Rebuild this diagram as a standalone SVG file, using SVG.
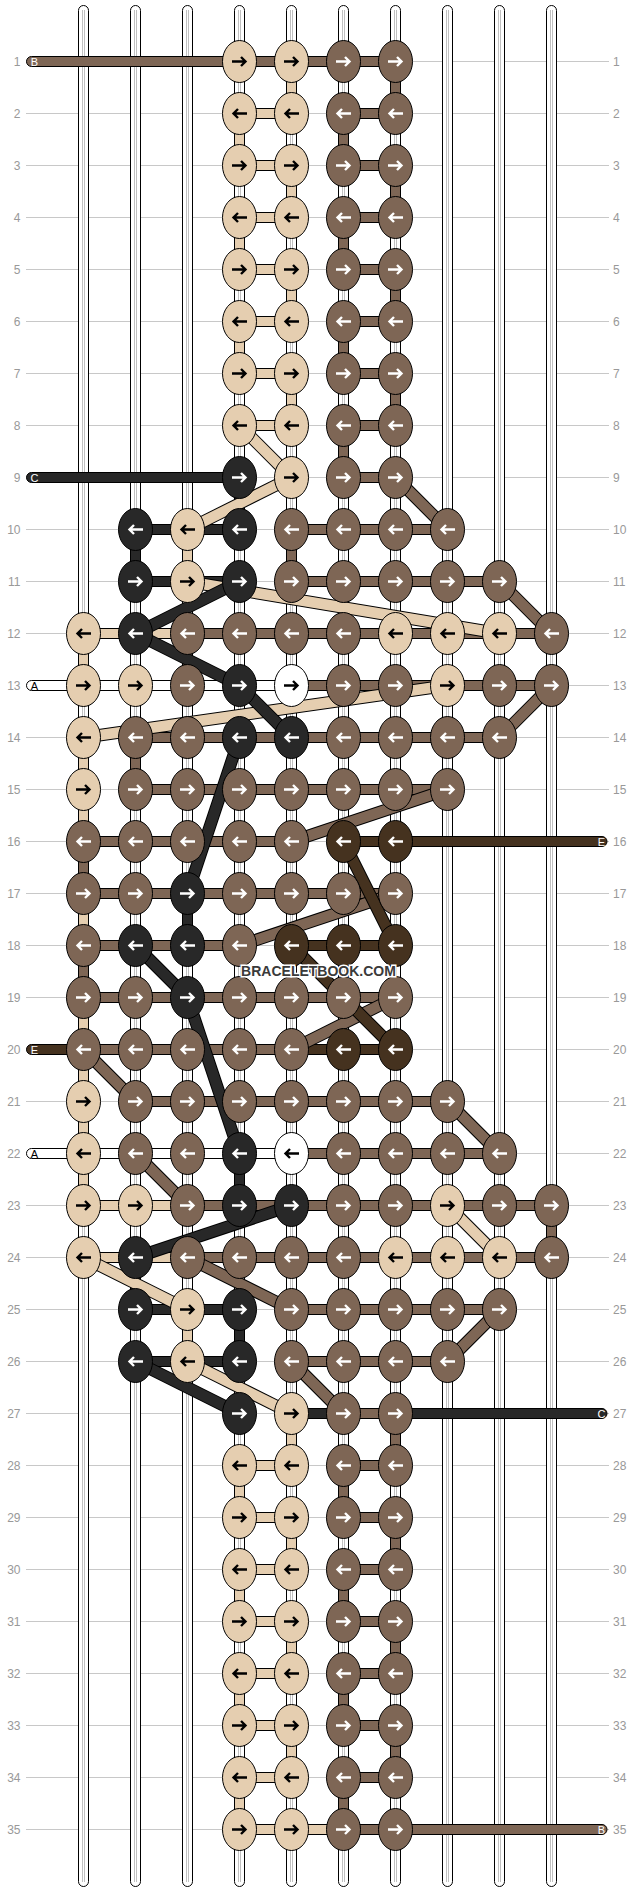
<svg xmlns="http://www.w3.org/2000/svg" xmlns:xlink="http://www.w3.org/1999/xlink" width="636" height="1892" viewBox="0 0 636 1892">
<style>
.rl{stroke:#c8c8c8;stroke-width:1;fill:none}
.lb{font-family:"Liberation Sans",Arial,sans-serif;font-size:12px;fill:#999}
.lr{text-anchor:end}
.st{fill:#fff;stroke:#000;stroke-width:1}
.sl{stroke:#c0c0c0;stroke-width:1;fill:none}
.cB{fill:#E5CEB0}.cN{fill:#7E6655}.cD{fill:#282828}.cX{fill:#45321F}.cW{fill:#fff}
#verticals rect,#bars rect{stroke:#000;stroke-width:1}
.o{stroke:#000;stroke-width:12.5}
.sB{stroke:#E5CEB0;stroke-width:10.5}.sN{stroke:#7E6655;stroke-width:10.5}.sD{stroke:#282828;stroke-width:10.5}.sX{stroke:#45321F;stroke-width:10.5}
.k ellipse{stroke:#000;stroke-width:1}
.kB ellipse{fill:#E5CEB0}.kN ellipse{fill:#7E6655}.kD ellipse{fill:#282828}.kX ellipse{fill:#45321F}.kW ellipse{fill:#fff}
.kB use,.kW use{stroke:#000}.kN use,.kD use,.kX use{stroke:#fff}
.tl{font-family:"Liberation Sans",Arial,sans-serif;font-size:11px;text-anchor:middle}
.wm{font-family:"Liberation Sans",Arial,sans-serif;font-size:14px;font-weight:bold;fill:#3a3a3a;stroke:#fff;stroke-width:3;paint-order:stroke;text-anchor:middle}
</style>
<defs>
<path id="R" d="M-7.5 0H5.5M1.5-4.5 6 0 1.5 4.5" fill="none" stroke-width="2.4"/>
<path id="L" d="M7.5 0H-5.5M-1.5-4.5-6 0-1.5 4.5" fill="none" stroke-width="2.4"/>
</defs>
<rect width="636" height="1892" fill="#fff"/>
<g id="rowlines">
<path class="rl" d="M26 61.5H609M26 113.5H609M26 165.5H609M26 217.5H609M26 269.5H609M26 321.5H609M26 373.5H609M26 425.5H609M26 477.5H609M26 529.5H609M26 581.5H609M26 633.5H609M26 685.5H609M26 737.5H609M26 789.5H609M26 841.5H609M26 893.5H609M26 945.5H609M26 997.5H609M26 1049.5H609M26 1101.5H609M26 1153.5H609M26 1205.5H609M26 1257.5H609M26 1309.5H609M26 1361.5H609M26 1413.5H609M26 1465.5H609M26 1517.5H609M26 1569.5H609M26 1621.5H609M26 1673.5H609M26 1725.5H609M26 1777.5H609M26 1829.5H609"/>
</g>
<g id="rowlabels" class="lb">
<text class="lr" x="20.5" y="65.8">1</text><text x="613" y="65.8">1</text>
<text class="lr" x="20.5" y="117.8">2</text><text x="613" y="117.8">2</text>
<text class="lr" x="20.5" y="169.8">3</text><text x="613" y="169.8">3</text>
<text class="lr" x="20.5" y="221.8">4</text><text x="613" y="221.8">4</text>
<text class="lr" x="20.5" y="273.8">5</text><text x="613" y="273.8">5</text>
<text class="lr" x="20.5" y="325.8">6</text><text x="613" y="325.8">6</text>
<text class="lr" x="20.5" y="377.8">7</text><text x="613" y="377.8">7</text>
<text class="lr" x="20.5" y="429.8">8</text><text x="613" y="429.8">8</text>
<text class="lr" x="20.5" y="481.8">9</text><text x="613" y="481.8">9</text>
<text class="lr" x="20.5" y="533.8">10</text><text x="613" y="533.8">10</text>
<text class="lr" x="20.5" y="585.8">11</text><text x="613" y="585.8">11</text>
<text class="lr" x="20.5" y="637.8">12</text><text x="613" y="637.8">12</text>
<text class="lr" x="20.5" y="689.8">13</text><text x="613" y="689.8">13</text>
<text class="lr" x="20.5" y="741.8">14</text><text x="613" y="741.8">14</text>
<text class="lr" x="20.5" y="793.8">15</text><text x="613" y="793.8">15</text>
<text class="lr" x="20.5" y="845.8">16</text><text x="613" y="845.8">16</text>
<text class="lr" x="20.5" y="897.8">17</text><text x="613" y="897.8">17</text>
<text class="lr" x="20.5" y="949.8">18</text><text x="613" y="949.8">18</text>
<text class="lr" x="20.5" y="1001.8">19</text><text x="613" y="1001.8">19</text>
<text class="lr" x="20.5" y="1053.8">20</text><text x="613" y="1053.8">20</text>
<text class="lr" x="20.5" y="1105.8">21</text><text x="613" y="1105.8">21</text>
<text class="lr" x="20.5" y="1157.8">22</text><text x="613" y="1157.8">22</text>
<text class="lr" x="20.5" y="1209.8">23</text><text x="613" y="1209.8">23</text>
<text class="lr" x="20.5" y="1261.8">24</text><text x="613" y="1261.8">24</text>
<text class="lr" x="20.5" y="1313.8">25</text><text x="613" y="1313.8">25</text>
<text class="lr" x="20.5" y="1365.8">26</text><text x="613" y="1365.8">26</text>
<text class="lr" x="20.5" y="1417.8">27</text><text x="613" y="1417.8">27</text>
<text class="lr" x="20.5" y="1469.8">28</text><text x="613" y="1469.8">28</text>
<text class="lr" x="20.5" y="1521.8">29</text><text x="613" y="1521.8">29</text>
<text class="lr" x="20.5" y="1573.8">30</text><text x="613" y="1573.8">30</text>
<text class="lr" x="20.5" y="1625.8">31</text><text x="613" y="1625.8">31</text>
<text class="lr" x="20.5" y="1677.8">32</text><text x="613" y="1677.8">32</text>
<text class="lr" x="20.5" y="1729.8">33</text><text x="613" y="1729.8">33</text>
<text class="lr" x="20.5" y="1781.8">34</text><text x="613" y="1781.8">34</text>
<text class="lr" x="20.5" y="1833.8">35</text><text x="613" y="1833.8">35</text>
</g>
<g id="strings">
<rect class="st" x="78.5" y="5.5" width="10" height="1881" rx="5"/>
<rect class="st" x="130.5" y="5.5" width="10" height="1881" rx="5"/>
<rect class="st" x="182.5" y="5.5" width="10" height="1881" rx="5"/>
<rect class="st" x="234.5" y="5.5" width="10" height="1881" rx="5"/>
<rect class="st" x="286.5" y="5.5" width="10" height="1881" rx="5"/>
<rect class="st" x="338.5" y="5.5" width="10" height="1881" rx="5"/>
<rect class="st" x="390.5" y="5.5" width="10" height="1881" rx="5"/>
<rect class="st" x="442.5" y="5.5" width="10" height="1881" rx="5"/>
<rect class="st" x="494.5" y="5.5" width="10" height="1881" rx="5"/>
<rect class="st" x="546.5" y="5.5" width="10" height="1881" rx="5"/>
<path class="sl" d="M82.5 10V1882M84.5 10V1882M134.5 10V1882M136.5 10V1882M186.5 10V1882M188.5 10V1882M238.5 10V1882M240.5 10V1882M290.5 10V1882M292.5 10V1882M342.5 10V1882M344.5 10V1882M394.5 10V1882M396.5 10V1882M446.5 10V1882M448.5 10V1882M498.5 10V1882M500.5 10V1882M550.5 10V1882M552.5 10V1882"/>
</g>
<g id="connectors">
<g id="verticals">
<rect class="cB" x="286.5" y="61.5" width="10" height="52"/><rect class="cB" x="286.5" y="165.5" width="10" height="52"/><rect class="cB" x="286.5" y="269.5" width="10" height="52"/><rect class="cB" x="286.5" y="373.5" width="10" height="52"/>
<rect class="cB" x="286.5" y="1413.5" width="10" height="52"/><rect class="cB" x="286.5" y="1517.5" width="10" height="52"/><rect class="cB" x="286.5" y="1621.5" width="10" height="52"/><rect class="cB" x="286.5" y="1725.5" width="10" height="52"/>
<rect class="cN" x="390.5" y="61.5" width="10" height="52"/><rect class="cN" x="390.5" y="165.5" width="10" height="52"/><rect class="cN" x="390.5" y="269.5" width="10" height="52"/><rect class="cN" x="390.5" y="373.5" width="10" height="52"/>
<rect class="cN" x="390.5" y="1413.5" width="10" height="52"/><rect class="cN" x="390.5" y="1517.5" width="10" height="52"/><rect class="cN" x="390.5" y="1621.5" width="10" height="52"/><rect class="cN" x="390.5" y="1725.5" width="10" height="52"/>
<rect class="cB" x="234.5" y="113.5" width="10" height="52"/><rect class="cB" x="234.5" y="217.5" width="10" height="52"/><rect class="cB" x="234.5" y="321.5" width="10" height="52"/>
<rect class="cB" x="234.5" y="1465.5" width="10" height="52"/><rect class="cB" x="234.5" y="1569.5" width="10" height="52"/><rect class="cB" x="234.5" y="1673.5" width="10" height="52"/><rect class="cB" x="234.5" y="1777.5" width="10" height="52"/>
<rect class="cN" x="338.5" y="113.5" width="10" height="52"/><rect class="cN" x="338.5" y="217.5" width="10" height="52"/><rect class="cN" x="338.5" y="321.5" width="10" height="52"/><rect class="cN" x="338.5" y="425.5" width="10" height="52"/>
<rect class="cN" x="338.5" y="1465.5" width="10" height="52"/><rect class="cN" x="338.5" y="1569.5" width="10" height="52"/><rect class="cN" x="338.5" y="1673.5" width="10" height="52"/><rect class="cN" x="338.5" y="1777.5" width="10" height="52"/>
<rect class="cD" x="234.5" y="477.5" width="10" height="52"/><rect class="cD" x="234.5" y="1153.5" width="10" height="52"/><rect class="cD" x="234.5" y="1309.5" width="10" height="52"/>
<rect class="cD" x="130.5" y="529.5" width="10" height="52"/><rect class="cD" x="130.5" y="1257.5" width="10" height="52"/>
<rect class="cB" x="182.5" y="529.5" width="10" height="52"/><rect class="cB" x="182.5" y="1309.5" width="10" height="52"/>
<rect class="cN" x="286.5" y="529.5" width="10" height="52"/>
<rect class="cB" x="78.5" y="633.5" width="10" height="52"/><rect class="cB" x="78.5" y="737.5" width="10" height="104"/><rect class="cB" x="78.5" y="893.5" width="10" height="52"/><rect class="cB" x="78.5" y="997.5" width="10" height="208"/>
<rect class="cN" x="78.5" y="841.5" width="10" height="52"/><rect class="cN" x="78.5" y="945.5" width="10" height="52"/>
<rect class="cN" x="182.5" y="633.5" width="10" height="52"/>
<rect class="cN" x="130.5" y="737.5" width="10" height="52"/>
<rect class="cD" x="182.5" y="893.5" width="10" height="52"/>
<rect class="cN" x="546.5" y="1205.5" width="10" height="52"/>
</g>
<g id="bars">
<rect class="cN" x="26.5" y="56.5" width="369" height="10" rx="5"/>
<rect class="cB" x="239.5" y="108.5" width="52" height="10"/><rect class="cN" x="343.5" y="108.5" width="52" height="10"/>
<rect class="cB" x="239.5" y="160.5" width="52" height="10"/><rect class="cN" x="343.5" y="160.5" width="52" height="10"/>
<rect class="cB" x="239.5" y="212.5" width="52" height="10"/><rect class="cN" x="343.5" y="212.5" width="52" height="10"/>
<rect class="cB" x="239.5" y="264.5" width="52" height="10"/><rect class="cN" x="343.5" y="264.5" width="52" height="10"/>
<rect class="cB" x="239.5" y="316.5" width="52" height="10"/><rect class="cN" x="343.5" y="316.5" width="52" height="10"/>
<rect class="cB" x="239.5" y="368.5" width="52" height="10"/><rect class="cN" x="343.5" y="368.5" width="52" height="10"/>
<rect class="cB" x="239.5" y="420.5" width="52" height="10"/><rect class="cN" x="343.5" y="420.5" width="52" height="10"/>
<rect class="cD" x="26.5" y="472.5" width="213" height="10" rx="5"/><rect class="cN" x="343.5" y="472.5" width="52" height="10"/>
<rect class="cD" x="135.5" y="524.5" width="104" height="10"/><rect class="cN" x="291.5" y="524.5" width="156" height="10"/>
<rect class="cD" x="135.5" y="576.5" width="104" height="10"/><rect class="cN" x="291.5" y="576.5" width="208" height="10"/>
<rect class="cB" x="83.5" y="628.5" width="104" height="10"/><rect class="cN" x="187.5" y="628.5" width="364" height="10"/>
<rect class="cW" x="26.5" y="680.5" width="265" height="10" rx="5"/><rect class="cN" x="291.5" y="680.5" width="260" height="10"/>
<rect class="cN" x="135.5" y="732.5" width="364" height="10"/>
<rect class="cN" x="135.5" y="784.5" width="312" height="10"/>
<rect class="cN" x="83.5" y="836.5" width="208" height="10"/><rect class="cX" x="343.5" y="836.5" width="263.5" height="10" rx="5"/>
<rect class="cN" x="83.5" y="888.5" width="312" height="10"/>
<rect class="cN" x="83.5" y="940.5" width="156" height="10"/><rect class="cX" x="291.5" y="940.5" width="104" height="10"/>
<rect class="cN" x="83.5" y="992.5" width="312" height="10"/>
<rect class="cX" x="26.5" y="1044.5" width="62" height="10" rx="5"/><rect class="cN" x="83.5" y="1044.5" width="208" height="10"/><rect class="cX" x="291.5" y="1044.5" width="104" height="10"/>
<rect class="cN" x="135.5" y="1096.5" width="312" height="10"/>
<rect class="cW" x="26.5" y="1148.5" width="265" height="10" rx="5"/><rect class="cN" x="291.5" y="1148.5" width="208" height="10"/>
<rect class="cB" x="83.5" y="1200.5" width="104" height="10"/><rect class="cN" x="187.5" y="1200.5" width="364" height="10"/>
<rect class="cB" x="83.5" y="1252.5" width="104" height="10"/><rect class="cN" x="187.5" y="1252.5" width="364" height="10"/>
<rect class="cD" x="135.5" y="1304.5" width="104" height="10"/><rect class="cN" x="291.5" y="1304.5" width="208" height="10"/>
<rect class="cD" x="135.5" y="1356.5" width="104" height="10"/><rect class="cN" x="291.5" y="1356.5" width="156" height="10"/>
<rect class="cD" x="291.5" y="1408.5" width="52" height="10"/><rect class="cN" x="343.5" y="1408.5" width="52" height="10"/><rect class="cD" x="395.5" y="1408.5" width="211.5" height="10" rx="5"/>
<rect class="cB" x="239.5" y="1460.5" width="52" height="10"/><rect class="cN" x="343.5" y="1460.5" width="52" height="10"/>
<rect class="cB" x="239.5" y="1512.5" width="52" height="10"/><rect class="cN" x="343.5" y="1512.5" width="52" height="10"/>
<rect class="cB" x="239.5" y="1564.5" width="52" height="10"/><rect class="cN" x="343.5" y="1564.5" width="52" height="10"/>
<rect class="cB" x="239.5" y="1616.5" width="52" height="10"/><rect class="cN" x="343.5" y="1616.5" width="52" height="10"/>
<rect class="cB" x="239.5" y="1668.5" width="52" height="10"/><rect class="cN" x="343.5" y="1668.5" width="52" height="10"/>
<rect class="cB" x="239.5" y="1720.5" width="52" height="10"/><rect class="cN" x="343.5" y="1720.5" width="52" height="10"/>
<rect class="cB" x="239.5" y="1772.5" width="52" height="10"/><rect class="cN" x="343.5" y="1772.5" width="52" height="10"/>
<rect class="cB" x="239.5" y="1824.5" width="104" height="10"/><rect class="cN" x="343.5" y="1824.5" width="263.5" height="10" rx="5"/>
</g>
<g id="diagonals">
<line class="o" x1="239.5" y1="425.5" x2="291.5" y2="477.5"/><line class="sB" x1="239.5" y1="425.5" x2="291.5" y2="477.5"/>
<line class="o" x1="291.5" y1="477.5" x2="187.5" y2="529.5"/><line class="sB" x1="291.5" y1="477.5" x2="187.5" y2="529.5"/>
<line class="o" x1="395.5" y1="477.5" x2="447.5" y2="529.5"/><line class="sN" x1="395.5" y1="477.5" x2="447.5" y2="529.5"/>
<line class="o" x1="187.5" y1="581.5" x2="499.5" y2="633.5"/><line class="sB" x1="187.5" y1="581.5" x2="499.5" y2="633.5"/>
<line class="o" x1="239.5" y1="581.5" x2="135.5" y2="633.5"/><line class="sD" x1="239.5" y1="581.5" x2="135.5" y2="633.5"/>
<line class="o" x1="499.5" y1="581.5" x2="551.5" y2="633.5"/><line class="sN" x1="499.5" y1="581.5" x2="551.5" y2="633.5"/>
<line class="o" x1="135.5" y1="633.5" x2="239.5" y2="685.5"/><line class="sD" x1="135.5" y1="633.5" x2="239.5" y2="685.5"/>
<line class="o" x1="447.5" y1="685.5" x2="83.5" y2="737.5"/><line class="sB" x1="447.5" y1="685.5" x2="83.5" y2="737.5"/>
<line class="o" x1="239.5" y1="685.5" x2="291.5" y2="737.5"/><line class="sD" x1="239.5" y1="685.5" x2="291.5" y2="737.5"/>
<line class="o" x1="551.5" y1="685.5" x2="499.5" y2="737.5"/><line class="sN" x1="551.5" y1="685.5" x2="499.5" y2="737.5"/>
<line class="o" x1="239.5" y1="737.5" x2="187.5" y2="893.5"/><line class="sD" x1="239.5" y1="737.5" x2="187.5" y2="893.5"/>
<line class="o" x1="447.5" y1="789.5" x2="291.5" y2="841.5"/><line class="sN" x1="447.5" y1="789.5" x2="291.5" y2="841.5"/>
<line class="o" x1="395.5" y1="893.5" x2="239.5" y2="945.5"/><line class="sN" x1="395.5" y1="893.5" x2="239.5" y2="945.5"/>
<line class="o" x1="343.5" y1="841.5" x2="395.5" y2="945.5"/><line class="sX" x1="343.5" y1="841.5" x2="395.5" y2="945.5"/>
<line class="o" x1="135.5" y1="945.5" x2="187.5" y2="997.5"/><line class="sD" x1="135.5" y1="945.5" x2="187.5" y2="997.5"/>
<line class="o" x1="395.5" y1="997.5" x2="291.5" y2="1049.5"/><line class="sN" x1="395.5" y1="997.5" x2="291.5" y2="1049.5"/>
<line class="o" x1="291.5" y1="945.5" x2="395.5" y2="1049.5"/><line class="sX" x1="291.5" y1="945.5" x2="395.5" y2="1049.5"/>
<line class="o" x1="187.5" y1="997.5" x2="239.5" y2="1153.5"/><line class="sD" x1="187.5" y1="997.5" x2="239.5" y2="1153.5"/>
<line class="o" x1="83.5" y1="1049.5" x2="135.5" y2="1101.5"/><line class="sN" x1="83.5" y1="1049.5" x2="135.5" y2="1101.5"/>
<line class="o" x1="447.5" y1="1101.5" x2="499.5" y2="1153.5"/><line class="sN" x1="447.5" y1="1101.5" x2="499.5" y2="1153.5"/>
<line class="o" x1="135.5" y1="1153.5" x2="187.5" y2="1205.5"/><line class="sN" x1="135.5" y1="1153.5" x2="187.5" y2="1205.5"/>
<line class="o" x1="291.5" y1="1205.5" x2="135.5" y2="1257.5"/><line class="sD" x1="291.5" y1="1205.5" x2="135.5" y2="1257.5"/>
<line class="o" x1="447.5" y1="1205.5" x2="499.5" y2="1257.5"/><line class="sB" x1="447.5" y1="1205.5" x2="499.5" y2="1257.5"/>
<line class="o" x1="83.5" y1="1257.5" x2="187.5" y2="1309.5"/><line class="sB" x1="83.5" y1="1257.5" x2="187.5" y2="1309.5"/>
<line class="o" x1="187.5" y1="1257.5" x2="291.5" y2="1309.5"/><line class="sN" x1="187.5" y1="1257.5" x2="291.5" y2="1309.5"/>
<line class="o" x1="499.5" y1="1309.5" x2="447.5" y2="1361.5"/><line class="sN" x1="499.5" y1="1309.5" x2="447.5" y2="1361.5"/>
<line class="o" x1="135.5" y1="1361.5" x2="239.5" y2="1413.5"/><line class="sD" x1="135.5" y1="1361.5" x2="239.5" y2="1413.5"/>
<line class="o" x1="187.5" y1="1361.5" x2="291.5" y2="1413.5"/><line class="sB" x1="187.5" y1="1361.5" x2="291.5" y2="1413.5"/>
<line class="o" x1="291.5" y1="1361.5" x2="343.5" y2="1413.5"/><line class="sN" x1="291.5" y1="1361.5" x2="343.5" y2="1413.5"/>
</g>
</g>
<g id="threadlabels" class="tl">
<text x="34.5" y="65.5" fill="#fff">B</text>
<text x="34.5" y="481.5" fill="#fff">C</text>
<text x="34.5" y="689.5" fill="#000">A</text>
<text x="34.5" y="1053.5" fill="#fff">E</text>
<text x="34.5" y="1157.5" fill="#000">A</text>
<text x="601.5" y="845.5" fill="#fff">E</text>
<text x="601.5" y="1417.5" fill="#fff">C</text>
<text x="601.5" y="1833.5" fill="#fff">B</text>
</g>
<g id="knots">
<g id="k1_3" class="k kB" transform="translate(239.5 61.5)"><ellipse rx="17" ry="21"/><use href="#R"/></g>
<g id="k1_4" class="k kB" transform="translate(291.5 61.5)"><ellipse rx="17" ry="21"/><use href="#R"/></g>
<g id="k1_5" class="k kN" transform="translate(343.5 61.5)"><ellipse rx="17" ry="21"/><use href="#R"/></g>
<g id="k1_6" class="k kN" transform="translate(395.5 61.5)"><ellipse rx="17" ry="21"/><use href="#R"/></g>
<g id="k2_3" class="k kB" transform="translate(239.5 113.5)"><ellipse rx="17" ry="21"/><use href="#L"/></g>
<g id="k2_4" class="k kB" transform="translate(291.5 113.5)"><ellipse rx="17" ry="21"/><use href="#L"/></g>
<g id="k2_5" class="k kN" transform="translate(343.5 113.5)"><ellipse rx="17" ry="21"/><use href="#L"/></g>
<g id="k2_6" class="k kN" transform="translate(395.5 113.5)"><ellipse rx="17" ry="21"/><use href="#L"/></g>
<g id="k3_3" class="k kB" transform="translate(239.5 165.5)"><ellipse rx="17" ry="21"/><use href="#R"/></g>
<g id="k3_4" class="k kB" transform="translate(291.5 165.5)"><ellipse rx="17" ry="21"/><use href="#R"/></g>
<g id="k3_5" class="k kN" transform="translate(343.5 165.5)"><ellipse rx="17" ry="21"/><use href="#R"/></g>
<g id="k3_6" class="k kN" transform="translate(395.5 165.5)"><ellipse rx="17" ry="21"/><use href="#R"/></g>
<g id="k4_3" class="k kB" transform="translate(239.5 217.5)"><ellipse rx="17" ry="21"/><use href="#L"/></g>
<g id="k4_4" class="k kB" transform="translate(291.5 217.5)"><ellipse rx="17" ry="21"/><use href="#L"/></g>
<g id="k4_5" class="k kN" transform="translate(343.5 217.5)"><ellipse rx="17" ry="21"/><use href="#L"/></g>
<g id="k4_6" class="k kN" transform="translate(395.5 217.5)"><ellipse rx="17" ry="21"/><use href="#L"/></g>
<g id="k5_3" class="k kB" transform="translate(239.5 269.5)"><ellipse rx="17" ry="21"/><use href="#R"/></g>
<g id="k5_4" class="k kB" transform="translate(291.5 269.5)"><ellipse rx="17" ry="21"/><use href="#R"/></g>
<g id="k5_5" class="k kN" transform="translate(343.5 269.5)"><ellipse rx="17" ry="21"/><use href="#R"/></g>
<g id="k5_6" class="k kN" transform="translate(395.5 269.5)"><ellipse rx="17" ry="21"/><use href="#R"/></g>
<g id="k6_3" class="k kB" transform="translate(239.5 321.5)"><ellipse rx="17" ry="21"/><use href="#L"/></g>
<g id="k6_4" class="k kB" transform="translate(291.5 321.5)"><ellipse rx="17" ry="21"/><use href="#L"/></g>
<g id="k6_5" class="k kN" transform="translate(343.5 321.5)"><ellipse rx="17" ry="21"/><use href="#L"/></g>
<g id="k6_6" class="k kN" transform="translate(395.5 321.5)"><ellipse rx="17" ry="21"/><use href="#L"/></g>
<g id="k7_3" class="k kB" transform="translate(239.5 373.5)"><ellipse rx="17" ry="21"/><use href="#R"/></g>
<g id="k7_4" class="k kB" transform="translate(291.5 373.5)"><ellipse rx="17" ry="21"/><use href="#R"/></g>
<g id="k7_5" class="k kN" transform="translate(343.5 373.5)"><ellipse rx="17" ry="21"/><use href="#R"/></g>
<g id="k7_6" class="k kN" transform="translate(395.5 373.5)"><ellipse rx="17" ry="21"/><use href="#R"/></g>
<g id="k8_3" class="k kB" transform="translate(239.5 425.5)"><ellipse rx="17" ry="21"/><use href="#L"/></g>
<g id="k8_4" class="k kB" transform="translate(291.5 425.5)"><ellipse rx="17" ry="21"/><use href="#L"/></g>
<g id="k8_5" class="k kN" transform="translate(343.5 425.5)"><ellipse rx="17" ry="21"/><use href="#L"/></g>
<g id="k8_6" class="k kN" transform="translate(395.5 425.5)"><ellipse rx="17" ry="21"/><use href="#L"/></g>
<g id="k9_3" class="k kD" transform="translate(239.5 477.5)"><ellipse rx="17" ry="21"/><use href="#R"/></g>
<g id="k9_4" class="k kB" transform="translate(291.5 477.5)"><ellipse rx="17" ry="21"/><use href="#R"/></g>
<g id="k9_5" class="k kN" transform="translate(343.5 477.5)"><ellipse rx="17" ry="21"/><use href="#R"/></g>
<g id="k9_6" class="k kN" transform="translate(395.5 477.5)"><ellipse rx="17" ry="21"/><use href="#R"/></g>
<g id="k10_1" class="k kD" transform="translate(135.5 529.5)"><ellipse rx="17" ry="21"/><use href="#L"/></g>
<g id="k10_2" class="k kB" transform="translate(187.5 529.5)"><ellipse rx="17" ry="21"/><use href="#L"/></g>
<g id="k10_3" class="k kD" transform="translate(239.5 529.5)"><ellipse rx="17" ry="21"/><use href="#L"/></g>
<g id="k10_4" class="k kN" transform="translate(291.5 529.5)"><ellipse rx="17" ry="21"/><use href="#L"/></g>
<g id="k10_5" class="k kN" transform="translate(343.5 529.5)"><ellipse rx="17" ry="21"/><use href="#L"/></g>
<g id="k10_6" class="k kN" transform="translate(395.5 529.5)"><ellipse rx="17" ry="21"/><use href="#L"/></g>
<g id="k10_7" class="k kN" transform="translate(447.5 529.5)"><ellipse rx="17" ry="21"/><use href="#L"/></g>
<g id="k11_1" class="k kD" transform="translate(135.5 581.5)"><ellipse rx="17" ry="21"/><use href="#R"/></g>
<g id="k11_2" class="k kB" transform="translate(187.5 581.5)"><ellipse rx="17" ry="21"/><use href="#R"/></g>
<g id="k11_3" class="k kD" transform="translate(239.5 581.5)"><ellipse rx="17" ry="21"/><use href="#R"/></g>
<g id="k11_4" class="k kN" transform="translate(291.5 581.5)"><ellipse rx="17" ry="21"/><use href="#R"/></g>
<g id="k11_5" class="k kN" transform="translate(343.5 581.5)"><ellipse rx="17" ry="21"/><use href="#R"/></g>
<g id="k11_6" class="k kN" transform="translate(395.5 581.5)"><ellipse rx="17" ry="21"/><use href="#R"/></g>
<g id="k11_7" class="k kN" transform="translate(447.5 581.5)"><ellipse rx="17" ry="21"/><use href="#R"/></g>
<g id="k11_8" class="k kN" transform="translate(499.5 581.5)"><ellipse rx="17" ry="21"/><use href="#R"/></g>
<g id="k12_0" class="k kB" transform="translate(83.5 633.5)"><ellipse rx="17" ry="21"/><use href="#L"/></g>
<g id="k12_1" class="k kD" transform="translate(135.5 633.5)"><ellipse rx="17" ry="21"/><use href="#L"/></g>
<g id="k12_2" class="k kN" transform="translate(187.5 633.5)"><ellipse rx="17" ry="21"/><use href="#L"/></g>
<g id="k12_3" class="k kN" transform="translate(239.5 633.5)"><ellipse rx="17" ry="21"/><use href="#L"/></g>
<g id="k12_4" class="k kN" transform="translate(291.5 633.5)"><ellipse rx="17" ry="21"/><use href="#L"/></g>
<g id="k12_5" class="k kN" transform="translate(343.5 633.5)"><ellipse rx="17" ry="21"/><use href="#L"/></g>
<g id="k12_6" class="k kB" transform="translate(395.5 633.5)"><ellipse rx="17" ry="21"/><use href="#L"/></g>
<g id="k12_7" class="k kB" transform="translate(447.5 633.5)"><ellipse rx="17" ry="21"/><use href="#L"/></g>
<g id="k12_8" class="k kB" transform="translate(499.5 633.5)"><ellipse rx="17" ry="21"/><use href="#L"/></g>
<g id="k12_9" class="k kN" transform="translate(551.5 633.5)"><ellipse rx="17" ry="21"/><use href="#L"/></g>
<g id="k13_0" class="k kB" transform="translate(83.5 685.5)"><ellipse rx="17" ry="21"/><use href="#R"/></g>
<g id="k13_1" class="k kB" transform="translate(135.5 685.5)"><ellipse rx="17" ry="21"/><use href="#R"/></g>
<g id="k13_2" class="k kN" transform="translate(187.5 685.5)"><ellipse rx="17" ry="21"/><use href="#R"/></g>
<g id="k13_3" class="k kD" transform="translate(239.5 685.5)"><ellipse rx="17" ry="21"/><use href="#R"/></g>
<g id="k13_4" class="k kW" transform="translate(291.5 685.5)"><ellipse rx="17" ry="21"/><use href="#R"/></g>
<g id="k13_5" class="k kN" transform="translate(343.5 685.5)"><ellipse rx="17" ry="21"/><use href="#R"/></g>
<g id="k13_6" class="k kN" transform="translate(395.5 685.5)"><ellipse rx="17" ry="21"/><use href="#R"/></g>
<g id="k13_7" class="k kB" transform="translate(447.5 685.5)"><ellipse rx="17" ry="21"/><use href="#R"/></g>
<g id="k13_8" class="k kN" transform="translate(499.5 685.5)"><ellipse rx="17" ry="21"/><use href="#R"/></g>
<g id="k13_9" class="k kN" transform="translate(551.5 685.5)"><ellipse rx="17" ry="21"/><use href="#R"/></g>
<g id="k14_0" class="k kB" transform="translate(83.5 737.5)"><ellipse rx="17" ry="21"/><use href="#L"/></g>
<g id="k14_1" class="k kN" transform="translate(135.5 737.5)"><ellipse rx="17" ry="21"/><use href="#L"/></g>
<g id="k14_2" class="k kN" transform="translate(187.5 737.5)"><ellipse rx="17" ry="21"/><use href="#L"/></g>
<g id="k14_3" class="k kD" transform="translate(239.5 737.5)"><ellipse rx="17" ry="21"/><use href="#L"/></g>
<g id="k14_4" class="k kD" transform="translate(291.5 737.5)"><ellipse rx="17" ry="21"/><use href="#L"/></g>
<g id="k14_5" class="k kN" transform="translate(343.5 737.5)"><ellipse rx="17" ry="21"/><use href="#L"/></g>
<g id="k14_6" class="k kN" transform="translate(395.5 737.5)"><ellipse rx="17" ry="21"/><use href="#L"/></g>
<g id="k14_7" class="k kN" transform="translate(447.5 737.5)"><ellipse rx="17" ry="21"/><use href="#L"/></g>
<g id="k14_8" class="k kN" transform="translate(499.5 737.5)"><ellipse rx="17" ry="21"/><use href="#L"/></g>
<g id="k15_0" class="k kB" transform="translate(83.5 789.5)"><ellipse rx="17" ry="21"/><use href="#R"/></g>
<g id="k15_1" class="k kN" transform="translate(135.5 789.5)"><ellipse rx="17" ry="21"/><use href="#R"/></g>
<g id="k15_2" class="k kN" transform="translate(187.5 789.5)"><ellipse rx="17" ry="21"/><use href="#R"/></g>
<g id="k15_3" class="k kN" transform="translate(239.5 789.5)"><ellipse rx="17" ry="21"/><use href="#R"/></g>
<g id="k15_4" class="k kN" transform="translate(291.5 789.5)"><ellipse rx="17" ry="21"/><use href="#R"/></g>
<g id="k15_5" class="k kN" transform="translate(343.5 789.5)"><ellipse rx="17" ry="21"/><use href="#R"/></g>
<g id="k15_6" class="k kN" transform="translate(395.5 789.5)"><ellipse rx="17" ry="21"/><use href="#R"/></g>
<g id="k15_7" class="k kN" transform="translate(447.5 789.5)"><ellipse rx="17" ry="21"/><use href="#R"/></g>
<g id="k16_0" class="k kN" transform="translate(83.5 841.5)"><ellipse rx="17" ry="21"/><use href="#L"/></g>
<g id="k16_1" class="k kN" transform="translate(135.5 841.5)"><ellipse rx="17" ry="21"/><use href="#L"/></g>
<g id="k16_2" class="k kN" transform="translate(187.5 841.5)"><ellipse rx="17" ry="21"/><use href="#L"/></g>
<g id="k16_3" class="k kN" transform="translate(239.5 841.5)"><ellipse rx="17" ry="21"/><use href="#L"/></g>
<g id="k16_4" class="k kN" transform="translate(291.5 841.5)"><ellipse rx="17" ry="21"/><use href="#L"/></g>
<g id="k16_5" class="k kX" transform="translate(343.5 841.5)"><ellipse rx="17" ry="21"/><use href="#L"/></g>
<g id="k16_6" class="k kX" transform="translate(395.5 841.5)"><ellipse rx="17" ry="21"/><use href="#L"/></g>
<g id="k17_0" class="k kN" transform="translate(83.5 893.5)"><ellipse rx="17" ry="21"/><use href="#R"/></g>
<g id="k17_1" class="k kN" transform="translate(135.5 893.5)"><ellipse rx="17" ry="21"/><use href="#R"/></g>
<g id="k17_2" class="k kD" transform="translate(187.5 893.5)"><ellipse rx="17" ry="21"/><use href="#R"/></g>
<g id="k17_3" class="k kN" transform="translate(239.5 893.5)"><ellipse rx="17" ry="21"/><use href="#R"/></g>
<g id="k17_4" class="k kN" transform="translate(291.5 893.5)"><ellipse rx="17" ry="21"/><use href="#R"/></g>
<g id="k17_5" class="k kN" transform="translate(343.5 893.5)"><ellipse rx="17" ry="21"/><use href="#R"/></g>
<g id="k17_6" class="k kN" transform="translate(395.5 893.5)"><ellipse rx="17" ry="21"/><use href="#R"/></g>
<g id="k18_0" class="k kN" transform="translate(83.5 945.5)"><ellipse rx="17" ry="21"/><use href="#L"/></g>
<g id="k18_1" class="k kD" transform="translate(135.5 945.5)"><ellipse rx="17" ry="21"/><use href="#L"/></g>
<g id="k18_2" class="k kD" transform="translate(187.5 945.5)"><ellipse rx="17" ry="21"/><use href="#L"/></g>
<g id="k18_3" class="k kN" transform="translate(239.5 945.5)"><ellipse rx="17" ry="21"/><use href="#L"/></g>
<g id="k18_4" class="k kX" transform="translate(291.5 945.5)"><ellipse rx="17" ry="21"/><use href="#L"/></g>
<g id="k18_5" class="k kX" transform="translate(343.5 945.5)"><ellipse rx="17" ry="21"/><use href="#L"/></g>
<g id="k18_6" class="k kX" transform="translate(395.5 945.5)"><ellipse rx="17" ry="21"/><use href="#L"/></g>
<g id="k19_0" class="k kN" transform="translate(83.5 997.5)"><ellipse rx="17" ry="21"/><use href="#R"/></g>
<g id="k19_1" class="k kN" transform="translate(135.5 997.5)"><ellipse rx="17" ry="21"/><use href="#R"/></g>
<g id="k19_2" class="k kD" transform="translate(187.5 997.5)"><ellipse rx="17" ry="21"/><use href="#R"/></g>
<g id="k19_3" class="k kN" transform="translate(239.5 997.5)"><ellipse rx="17" ry="21"/><use href="#R"/></g>
<g id="k19_4" class="k kN" transform="translate(291.5 997.5)"><ellipse rx="17" ry="21"/><use href="#R"/></g>
<g id="k19_5" class="k kN" transform="translate(343.5 997.5)"><ellipse rx="17" ry="21"/><use href="#R"/></g>
<g id="k19_6" class="k kN" transform="translate(395.5 997.5)"><ellipse rx="17" ry="21"/><use href="#R"/></g>
<g id="k20_0" class="k kN" transform="translate(83.5 1049.5)"><ellipse rx="17" ry="21"/><use href="#L"/></g>
<g id="k20_1" class="k kN" transform="translate(135.5 1049.5)"><ellipse rx="17" ry="21"/><use href="#L"/></g>
<g id="k20_2" class="k kN" transform="translate(187.5 1049.5)"><ellipse rx="17" ry="21"/><use href="#L"/></g>
<g id="k20_3" class="k kN" transform="translate(239.5 1049.5)"><ellipse rx="17" ry="21"/><use href="#L"/></g>
<g id="k20_4" class="k kN" transform="translate(291.5 1049.5)"><ellipse rx="17" ry="21"/><use href="#L"/></g>
<g id="k20_5" class="k kX" transform="translate(343.5 1049.5)"><ellipse rx="17" ry="21"/><use href="#L"/></g>
<g id="k20_6" class="k kX" transform="translate(395.5 1049.5)"><ellipse rx="17" ry="21"/><use href="#L"/></g>
<g id="k21_0" class="k kB" transform="translate(83.5 1101.5)"><ellipse rx="17" ry="21"/><use href="#R"/></g>
<g id="k21_1" class="k kN" transform="translate(135.5 1101.5)"><ellipse rx="17" ry="21"/><use href="#R"/></g>
<g id="k21_2" class="k kN" transform="translate(187.5 1101.5)"><ellipse rx="17" ry="21"/><use href="#R"/></g>
<g id="k21_3" class="k kN" transform="translate(239.5 1101.5)"><ellipse rx="17" ry="21"/><use href="#R"/></g>
<g id="k21_4" class="k kN" transform="translate(291.5 1101.5)"><ellipse rx="17" ry="21"/><use href="#R"/></g>
<g id="k21_5" class="k kN" transform="translate(343.5 1101.5)"><ellipse rx="17" ry="21"/><use href="#R"/></g>
<g id="k21_6" class="k kN" transform="translate(395.5 1101.5)"><ellipse rx="17" ry="21"/><use href="#R"/></g>
<g id="k21_7" class="k kN" transform="translate(447.5 1101.5)"><ellipse rx="17" ry="21"/><use href="#R"/></g>
<g id="k22_0" class="k kB" transform="translate(83.5 1153.5)"><ellipse rx="17" ry="21"/><use href="#L"/></g>
<g id="k22_1" class="k kN" transform="translate(135.5 1153.5)"><ellipse rx="17" ry="21"/><use href="#L"/></g>
<g id="k22_2" class="k kN" transform="translate(187.5 1153.5)"><ellipse rx="17" ry="21"/><use href="#L"/></g>
<g id="k22_3" class="k kD" transform="translate(239.5 1153.5)"><ellipse rx="17" ry="21"/><use href="#L"/></g>
<g id="k22_4" class="k kW" transform="translate(291.5 1153.5)"><ellipse rx="17" ry="21"/><use href="#L"/></g>
<g id="k22_5" class="k kN" transform="translate(343.5 1153.5)"><ellipse rx="17" ry="21"/><use href="#L"/></g>
<g id="k22_6" class="k kN" transform="translate(395.5 1153.5)"><ellipse rx="17" ry="21"/><use href="#L"/></g>
<g id="k22_7" class="k kN" transform="translate(447.5 1153.5)"><ellipse rx="17" ry="21"/><use href="#L"/></g>
<g id="k22_8" class="k kN" transform="translate(499.5 1153.5)"><ellipse rx="17" ry="21"/><use href="#L"/></g>
<g id="k23_0" class="k kB" transform="translate(83.5 1205.5)"><ellipse rx="17" ry="21"/><use href="#R"/></g>
<g id="k23_1" class="k kB" transform="translate(135.5 1205.5)"><ellipse rx="17" ry="21"/><use href="#R"/></g>
<g id="k23_2" class="k kN" transform="translate(187.5 1205.5)"><ellipse rx="17" ry="21"/><use href="#R"/></g>
<g id="k23_3" class="k kD" transform="translate(239.5 1205.5)"><ellipse rx="17" ry="21"/><use href="#R"/></g>
<g id="k23_4" class="k kD" transform="translate(291.5 1205.5)"><ellipse rx="17" ry="21"/><use href="#R"/></g>
<g id="k23_5" class="k kN" transform="translate(343.5 1205.5)"><ellipse rx="17" ry="21"/><use href="#R"/></g>
<g id="k23_6" class="k kN" transform="translate(395.5 1205.5)"><ellipse rx="17" ry="21"/><use href="#R"/></g>
<g id="k23_7" class="k kB" transform="translate(447.5 1205.5)"><ellipse rx="17" ry="21"/><use href="#R"/></g>
<g id="k23_8" class="k kN" transform="translate(499.5 1205.5)"><ellipse rx="17" ry="21"/><use href="#R"/></g>
<g id="k23_9" class="k kN" transform="translate(551.5 1205.5)"><ellipse rx="17" ry="21"/><use href="#R"/></g>
<g id="k24_0" class="k kB" transform="translate(83.5 1257.5)"><ellipse rx="17" ry="21"/><use href="#L"/></g>
<g id="k24_1" class="k kD" transform="translate(135.5 1257.5)"><ellipse rx="17" ry="21"/><use href="#L"/></g>
<g id="k24_2" class="k kN" transform="translate(187.5 1257.5)"><ellipse rx="17" ry="21"/><use href="#L"/></g>
<g id="k24_3" class="k kN" transform="translate(239.5 1257.5)"><ellipse rx="17" ry="21"/><use href="#L"/></g>
<g id="k24_4" class="k kN" transform="translate(291.5 1257.5)"><ellipse rx="17" ry="21"/><use href="#L"/></g>
<g id="k24_5" class="k kN" transform="translate(343.5 1257.5)"><ellipse rx="17" ry="21"/><use href="#L"/></g>
<g id="k24_6" class="k kB" transform="translate(395.5 1257.5)"><ellipse rx="17" ry="21"/><use href="#L"/></g>
<g id="k24_7" class="k kB" transform="translate(447.5 1257.5)"><ellipse rx="17" ry="21"/><use href="#L"/></g>
<g id="k24_8" class="k kB" transform="translate(499.5 1257.5)"><ellipse rx="17" ry="21"/><use href="#L"/></g>
<g id="k24_9" class="k kN" transform="translate(551.5 1257.5)"><ellipse rx="17" ry="21"/><use href="#L"/></g>
<g id="k25_1" class="k kD" transform="translate(135.5 1309.5)"><ellipse rx="17" ry="21"/><use href="#R"/></g>
<g id="k25_2" class="k kB" transform="translate(187.5 1309.5)"><ellipse rx="17" ry="21"/><use href="#R"/></g>
<g id="k25_3" class="k kD" transform="translate(239.5 1309.5)"><ellipse rx="17" ry="21"/><use href="#R"/></g>
<g id="k25_4" class="k kN" transform="translate(291.5 1309.5)"><ellipse rx="17" ry="21"/><use href="#R"/></g>
<g id="k25_5" class="k kN" transform="translate(343.5 1309.5)"><ellipse rx="17" ry="21"/><use href="#R"/></g>
<g id="k25_6" class="k kN" transform="translate(395.5 1309.5)"><ellipse rx="17" ry="21"/><use href="#R"/></g>
<g id="k25_7" class="k kN" transform="translate(447.5 1309.5)"><ellipse rx="17" ry="21"/><use href="#R"/></g>
<g id="k25_8" class="k kN" transform="translate(499.5 1309.5)"><ellipse rx="17" ry="21"/><use href="#R"/></g>
<g id="k26_1" class="k kD" transform="translate(135.5 1361.5)"><ellipse rx="17" ry="21"/><use href="#L"/></g>
<g id="k26_2" class="k kB" transform="translate(187.5 1361.5)"><ellipse rx="17" ry="21"/><use href="#L"/></g>
<g id="k26_3" class="k kD" transform="translate(239.5 1361.5)"><ellipse rx="17" ry="21"/><use href="#L"/></g>
<g id="k26_4" class="k kN" transform="translate(291.5 1361.5)"><ellipse rx="17" ry="21"/><use href="#L"/></g>
<g id="k26_5" class="k kN" transform="translate(343.5 1361.5)"><ellipse rx="17" ry="21"/><use href="#L"/></g>
<g id="k26_6" class="k kN" transform="translate(395.5 1361.5)"><ellipse rx="17" ry="21"/><use href="#L"/></g>
<g id="k26_7" class="k kN" transform="translate(447.5 1361.5)"><ellipse rx="17" ry="21"/><use href="#L"/></g>
<g id="k27_3" class="k kD" transform="translate(239.5 1413.5)"><ellipse rx="17" ry="21"/><use href="#R"/></g>
<g id="k27_4" class="k kB" transform="translate(291.5 1413.5)"><ellipse rx="17" ry="21"/><use href="#R"/></g>
<g id="k27_5" class="k kN" transform="translate(343.5 1413.5)"><ellipse rx="17" ry="21"/><use href="#R"/></g>
<g id="k27_6" class="k kN" transform="translate(395.5 1413.5)"><ellipse rx="17" ry="21"/><use href="#R"/></g>
<g id="k28_3" class="k kB" transform="translate(239.5 1465.5)"><ellipse rx="17" ry="21"/><use href="#L"/></g>
<g id="k28_4" class="k kB" transform="translate(291.5 1465.5)"><ellipse rx="17" ry="21"/><use href="#L"/></g>
<g id="k28_5" class="k kN" transform="translate(343.5 1465.5)"><ellipse rx="17" ry="21"/><use href="#L"/></g>
<g id="k28_6" class="k kN" transform="translate(395.5 1465.5)"><ellipse rx="17" ry="21"/><use href="#L"/></g>
<g id="k29_3" class="k kB" transform="translate(239.5 1517.5)"><ellipse rx="17" ry="21"/><use href="#R"/></g>
<g id="k29_4" class="k kB" transform="translate(291.5 1517.5)"><ellipse rx="17" ry="21"/><use href="#R"/></g>
<g id="k29_5" class="k kN" transform="translate(343.5 1517.5)"><ellipse rx="17" ry="21"/><use href="#R"/></g>
<g id="k29_6" class="k kN" transform="translate(395.5 1517.5)"><ellipse rx="17" ry="21"/><use href="#R"/></g>
<g id="k30_3" class="k kB" transform="translate(239.5 1569.5)"><ellipse rx="17" ry="21"/><use href="#L"/></g>
<g id="k30_4" class="k kB" transform="translate(291.5 1569.5)"><ellipse rx="17" ry="21"/><use href="#L"/></g>
<g id="k30_5" class="k kN" transform="translate(343.5 1569.5)"><ellipse rx="17" ry="21"/><use href="#L"/></g>
<g id="k30_6" class="k kN" transform="translate(395.5 1569.5)"><ellipse rx="17" ry="21"/><use href="#L"/></g>
<g id="k31_3" class="k kB" transform="translate(239.5 1621.5)"><ellipse rx="17" ry="21"/><use href="#R"/></g>
<g id="k31_4" class="k kB" transform="translate(291.5 1621.5)"><ellipse rx="17" ry="21"/><use href="#R"/></g>
<g id="k31_5" class="k kN" transform="translate(343.5 1621.5)"><ellipse rx="17" ry="21"/><use href="#R"/></g>
<g id="k31_6" class="k kN" transform="translate(395.5 1621.5)"><ellipse rx="17" ry="21"/><use href="#R"/></g>
<g id="k32_3" class="k kB" transform="translate(239.5 1673.5)"><ellipse rx="17" ry="21"/><use href="#L"/></g>
<g id="k32_4" class="k kB" transform="translate(291.5 1673.5)"><ellipse rx="17" ry="21"/><use href="#L"/></g>
<g id="k32_5" class="k kN" transform="translate(343.5 1673.5)"><ellipse rx="17" ry="21"/><use href="#L"/></g>
<g id="k32_6" class="k kN" transform="translate(395.5 1673.5)"><ellipse rx="17" ry="21"/><use href="#L"/></g>
<g id="k33_3" class="k kB" transform="translate(239.5 1725.5)"><ellipse rx="17" ry="21"/><use href="#R"/></g>
<g id="k33_4" class="k kB" transform="translate(291.5 1725.5)"><ellipse rx="17" ry="21"/><use href="#R"/></g>
<g id="k33_5" class="k kN" transform="translate(343.5 1725.5)"><ellipse rx="17" ry="21"/><use href="#R"/></g>
<g id="k33_6" class="k kN" transform="translate(395.5 1725.5)"><ellipse rx="17" ry="21"/><use href="#R"/></g>
<g id="k34_3" class="k kB" transform="translate(239.5 1777.5)"><ellipse rx="17" ry="21"/><use href="#L"/></g>
<g id="k34_4" class="k kB" transform="translate(291.5 1777.5)"><ellipse rx="17" ry="21"/><use href="#L"/></g>
<g id="k34_5" class="k kN" transform="translate(343.5 1777.5)"><ellipse rx="17" ry="21"/><use href="#L"/></g>
<g id="k34_6" class="k kN" transform="translate(395.5 1777.5)"><ellipse rx="17" ry="21"/><use href="#L"/></g>
<g id="k35_3" class="k kB" transform="translate(239.5 1829.5)"><ellipse rx="17" ry="21"/><use href="#R"/></g>
<g id="k35_4" class="k kB" transform="translate(291.5 1829.5)"><ellipse rx="17" ry="21"/><use href="#R"/></g>
<g id="k35_5" class="k kN" transform="translate(343.5 1829.5)"><ellipse rx="17" ry="21"/><use href="#R"/></g>
<g id="k35_6" class="k kN" transform="translate(395.5 1829.5)"><ellipse rx="17" ry="21"/><use href="#R"/></g>
</g>
<text class="wm" x="318.5" y="976">BRACELETBOOK.COM</text>
</svg>
